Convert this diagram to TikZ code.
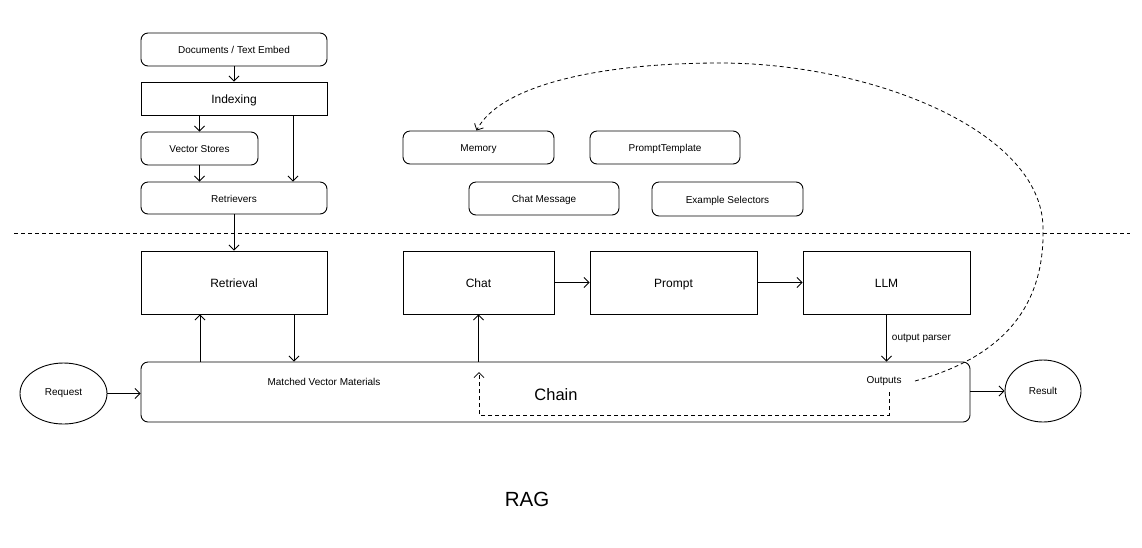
\documentclass[tikz,border=0pt]{standalone}
\usepackage{fontspec}
\setmainfont{Liberation Sans}
\usepackage{tikz}
\usetikzlibrary{arrows.meta, positioning, shapes.geometric, calc}

\begin{document}
\begin{tikzpicture}[x=1pt, y=-1pt,
    line width=0.9pt,
    >={Straight Barb[length=5pt,width=10pt]},
    box/.style={draw, rectangle, align=center, inner sep=0pt, text height=10.5pt, text depth=1.5pt, font=\fontsize{12}{14}\selectfont},
    rbox/.style={draw, rectangle, rounded corners=7pt, inner sep=0pt, text height=9pt, text depth=1pt, font=\fontsize{10}{12}\selectfont},
    term/.style={draw, ellipse, inner sep=0pt, font=\fontsize{10}{12}\selectfont},
    lbl/.style={inner sep=1pt, font=\fontsize{10}{12}\selectfont},
    fb/.style={dashed, dash pattern=on 4pt off 3pt, line width=0.8pt}
]
\useasboundingbox (0,0) rectangle (1142,547);

% upper half: components
\node[rbox, minimum width=186pt, minimum height=33pt] (docs) at (234,49.5) {Documents / Text Embed};
\node[box, minimum width=186pt, minimum height=33pt] (indexing) at (234,98.5) {Indexing};
\node[rbox, minimum width=117pt, minimum height=33pt] (vstores) at (199.5,148.5) {Vector Stores};
\node[rbox, minimum width=186pt, minimum height=32pt] (retrievers) at (234,198) {Retrievers};
\node[rbox, minimum width=151pt, minimum height=33pt] (memory) at (478.5,147.5) {Memory};
\node[rbox, minimum width=150pt, minimum height=33pt] (ptemplate) at (665,147.5) {PromptTemplate};
\node[rbox, minimum width=150pt, minimum height=33pt] (chatmsg) at (544,198.5) {Chat Message};
\node[rbox, minimum width=151pt, minimum height=34pt] (exsel) at (727.5,199) {Example Selectors};

\draw[->] (docs) -- (indexing);
\draw[->] (indexing.south -| vstores.north) -- (vstores.north);
\draw[->] ([xshift=59pt]indexing.south) -- ([xshift=59pt]retrievers.north);
\draw[->] (vstores) -- (retrievers.north -| vstores.south);

% separator
\coordinate (sepL) at (14,233);
\coordinate (sepR) at (1130,233);
\draw[fb] (sepL) -- (sepR);

% lower half: flow
\node[box, minimum width=186pt, minimum height=63pt] (retrieval) at (234,282.5) {Retrieval};
\node[box, minimum width=151pt, minimum height=63pt] (chat) at (478.5,282.5) {Chat};
\node[box, minimum width=167pt, minimum height=63pt] (prompt) at (673.5,282.5) {Prompt};
\node[box, minimum width=167pt, minimum height=63pt] (llm) at (886.5,282.5) {LLM};
\node[rbox, minimum width=829pt, minimum height=60pt] (chain) at (555.5,392) {};
\node[term, minimum width=87pt, minimum height=61pt] (request) at (63.5,393.5) {Request};
\node[term, minimum width=76pt, minimum height=62pt] (result) at (1043,391) {Result};

\node[lbl] (matched) at (324,382) {Matched Vector Materials};
\node[lbl] (outputs) at (884,381) {Outputs};
\node[font=\fontsize{16.5}{18}\selectfont] (chainlbl) at (556,395) {Chain};
\node[font=\fontsize{20.5}{22}\selectfont] (rag) at (527,499) {RAG};

\draw[->] (retrievers) -- (retrieval);
\draw[->] ([xshift=-34pt]retrieval.south |- chain.north) -- ([xshift=-34pt]retrieval.south);
\draw[->] ([xshift=60pt]retrieval.south) -- ([xshift=60pt]retrieval.south |- chain.north);
\draw[->] (chat.south |- chain.north) -- (chat.south);
\draw[->] (chat) -- (prompt);
\draw[->] (prompt) -- (llm);
\draw[->] (llm.south) -- node[lbl, right=4pt] {output parser} (llm.south |- chain.north);
\draw[->] (request.east) -- (chain.west |- request.east);
\draw[->] (chain.east |- result.west) -- (result.west);

% feedback loops
\coordinate (fbstart) at (889,392);
\coordinate (fbend) at (479,372);
\draw[fb, ->] (fbstart) -- (889,415) -| (fbend);
\draw[fb, ->] ([xshift=12pt]outputs.east) .. controls (1010,355) and (1045,300) .. (1043,227)
    .. controls (1041,130) and (870,63) .. (720,63)
    .. controls (600,63) and (500,85) .. ([xshift=-2pt]memory.north);
\end{tikzpicture}
\end{document}
